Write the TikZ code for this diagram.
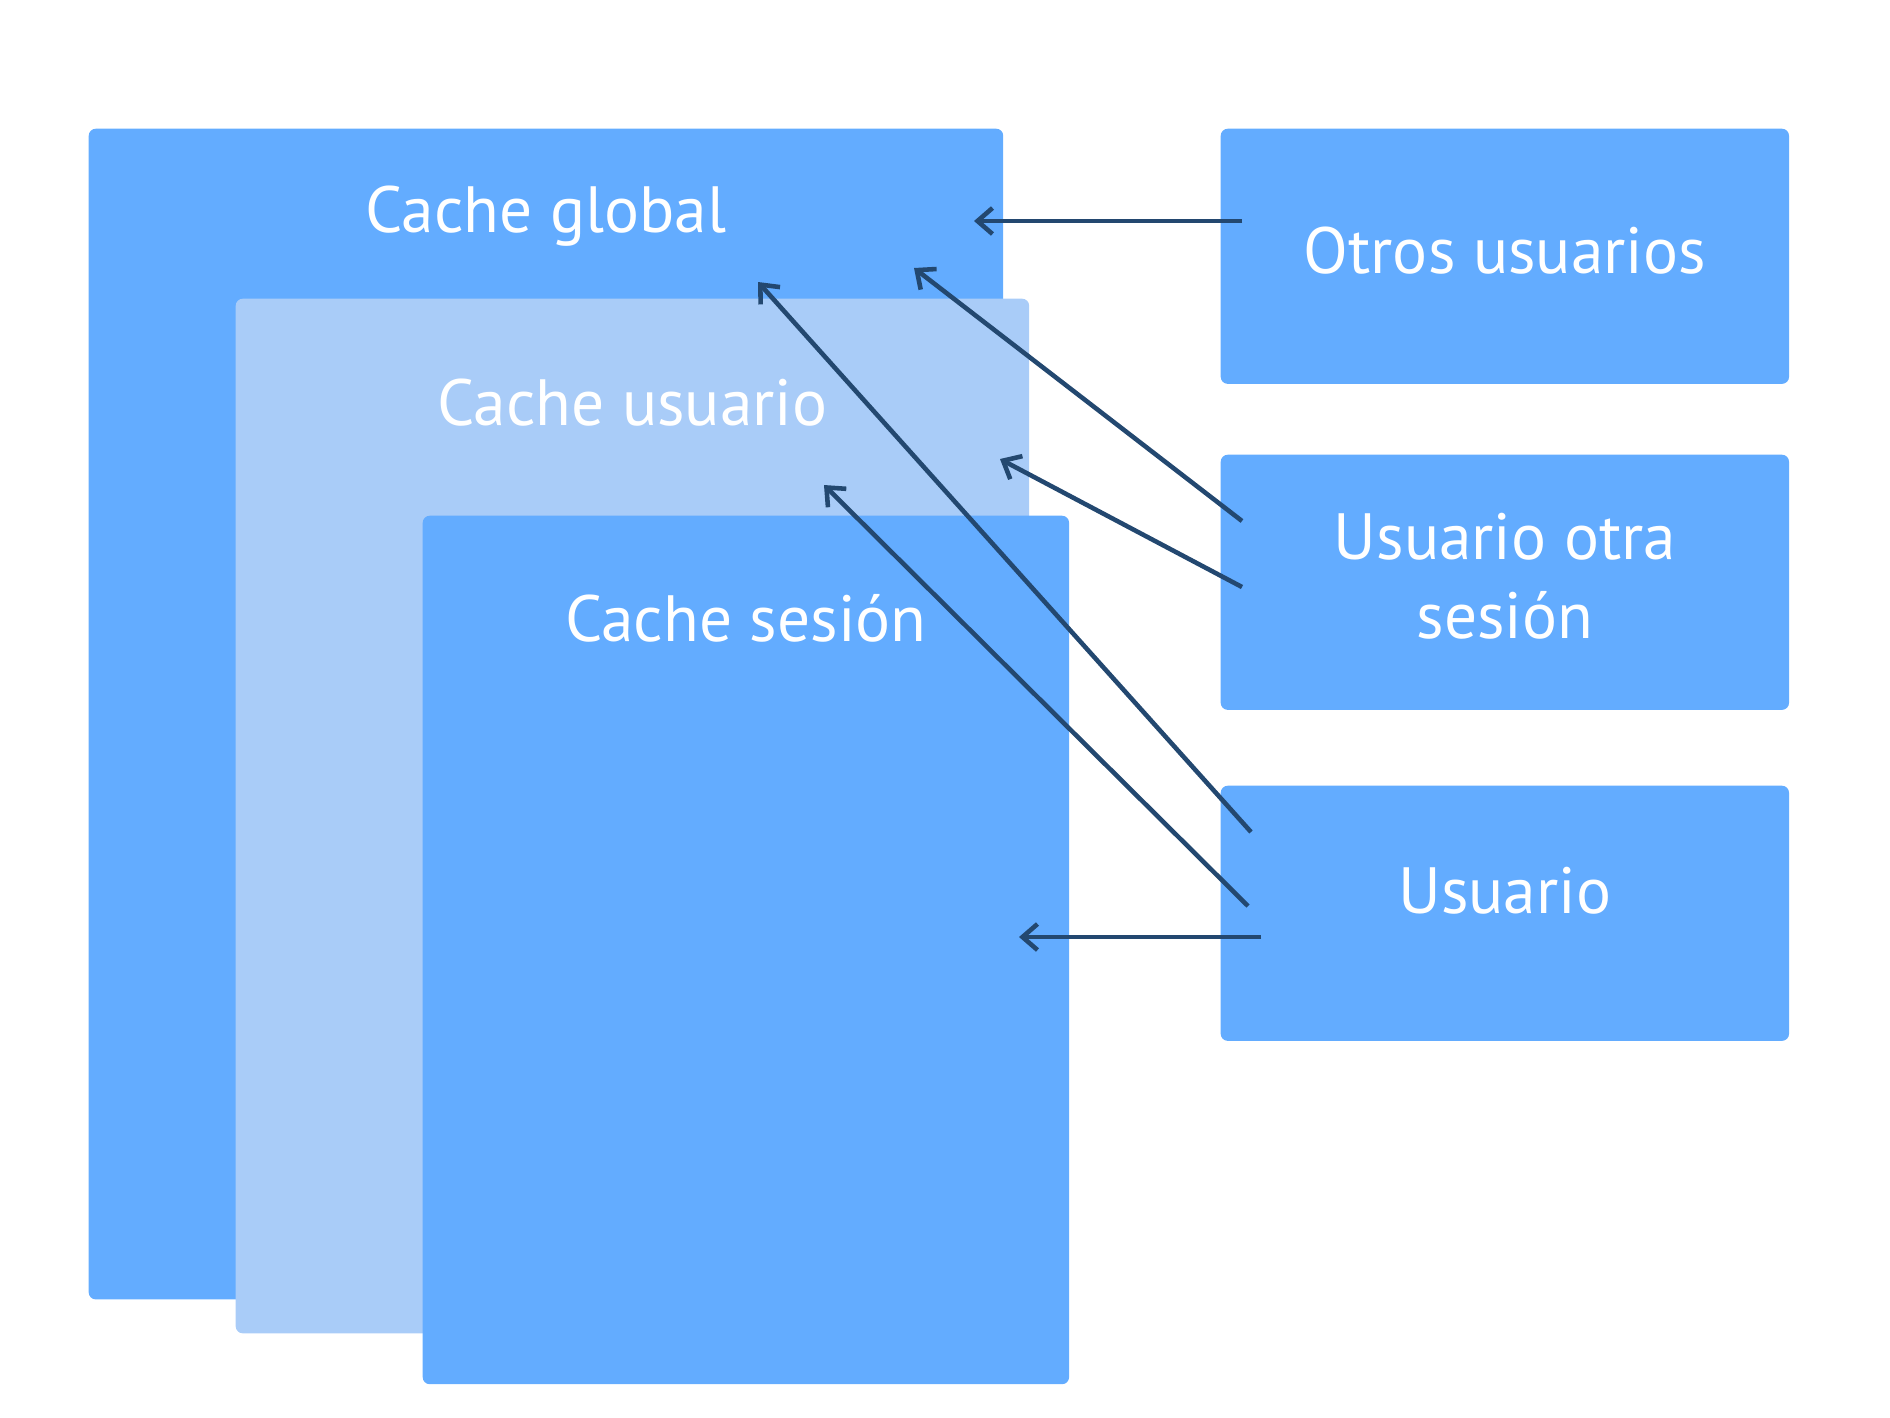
\documentclass[tikz,border=0pt]{standalone}
\usepackage{fontspec}
\setmainfont{PT Sans}
\usetikzlibrary{arrows.meta,positioning,calc}
\usepackage{xcolor}
\definecolor{cacheblue}{HTML}{63ACFF}
\definecolor{cachelight}{HTML}{A9CCF8}
\definecolor{linkblue}{HTML}{234870}

\begin{document}
\begin{tikzpicture}[
    x=0.01cm, y=-0.01cm,
    cache/.style={rectangle, rounded corners=2pt, fill=cacheblue, anchor=north west, inner sep=0pt},
    userbox/.style={rectangle, rounded corners=2pt, fill=cacheblue, anchor=north west, inner sep=0pt,
                    minimum width=5.68cm, minimum height=2.55cm},
    lbl/.style={text=white, font=\fontsize{18.6}{22.5}\selectfont, align=center},
    arrow/.style={-{Straight Barb[length=1.5mm,width=2.6mm]}, line width=1.3pt, color=linkblue}
]
\useasboundingbox (0,0) rectangle (1890,1417);

% Nested caches (left)
\node[cache, minimum width=9.14cm, minimum height=11.70cm] (global) at (88,128) {};
\node[cache, fill=cachelight, minimum width=7.93cm, minimum height=10.34cm] (usrcache) at (235,298) {};
\node[cache, minimum width=6.46cm, minimum height=8.68cm] (sescache) at (422,515) {};

\node[lbl] (globaltxt) at ($(global.north)+(0,88)$) {Cache global};
\node[lbl] (usrcachetxt) at ($(usrcache.north)+(0,105)$) {Cache usuario};
\node[lbl] (sescachetxt) at ($(sescache.north)+(0,103)$) {Cache sesión};

% Who reads the caches (right)
\node[userbox] (otros) at (1220,128) {};
\node[userbox] (otra) at (1220,454) {};
\node[userbox] (usr) at (1220,785) {};

\node[lbl] at ($(otros.center)+(0,-6)$) {Otros usuarios};
\node[lbl] at ($(otra.center)+(0,-6)$) {Usuario otra\\sesión};
\node[lbl] at ($(usr.center)+(0,-23)$) {Usuario};

% Access arrows
\draw[arrow] ($(otros.north west)+(22,93)$) -- ($(global.north west)+(886,93)$);
\draw[arrow] ($(otra.north west)+(22,67)$) -- ($(global.north west)+(826,140)$);
\draw[arrow] ($(otra.north west)+(22,133)$) -- ($(usrcache.north west)+(765,161)$);
\draw[arrow] ($(usr.north west)+(31,47)$) -- ($(global.north west)+(670,154)$);
\draw[arrow] ($(usr.north west)+(28,121)$) -- ($(usrcache.north west)+(589,187)$);
\draw[arrow] ($(usr.north west)+(41,152)$) -- ($(sescache.north west)+(597,422)$);

\end{tikzpicture}
\end{document}
